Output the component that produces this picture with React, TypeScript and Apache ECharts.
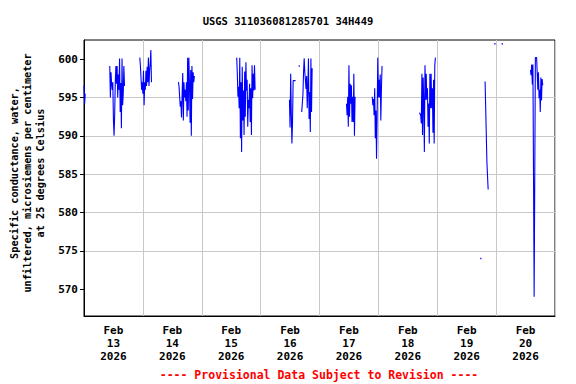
import React, { useEffect, useRef } from 'react';
import * as echarts from 'echarts';

const TITLE = 'USGS 311036081285701 34H449';
const Y_NAME_LINES = [
  'Specific conductance, water,',
  'unfiltered, microsiemens per centimeter',
  'at 25 degrees Celsius',
];
const NOTE = '---- Provisional Data Subject to Revision ----';
const X_DAY_LABELS = [
  'Feb\n13\n2026', 'Feb\n14\n2026', 'Feb\n15\n2026', 'Feb\n16\n2026',
  'Feb\n17\n2026', 'Feb\n18\n2026', 'Feb\n19\n2026', 'Feb\n20\n2026',
];
const Y_TICKS = [570, 575, 580, 585, 590, 595, 600];
const X_START = '2026-02-13T00:00:00Z';
const X_END = '2026-02-21T00:00:00Z';
const Y_MIN = 566.5;
const Y_MAX = 602.5;
const STEP_MINUTES = 15;

// 15-minute record segments (start time + consecutive values)
const segA_start = '2026-02-13T00:00:00Z';
const segA_values = [596.6, 594.2, 595.5];

const segB_start = '2026-02-13T10:30:00Z';
const segB_values = [599.1, 595.0, 598.3, 596.8, 596.0, 597.0, 592.0, 590.0, 592.7, 597.0, 599.1, 596.8, 599.1, 595.0, 598.0, 596.0, 600.1, 593.1, 596.9, 591.0, 600.1, 594.0, 595.5, 599.1, 596.5];

const segC_start = '2026-02-13T22:45:00Z';
const segC_values = [600.2, 599.1, 597.5, 596.0, 597.0, 595.5, 598.5, 594.0, 597.0, 596.0, 598.5, 596.5, 599.0, 597.0, 600.2, 596.5, 598.5, 599.5, 601.2, 597.0];

const segD_start = '2026-02-14T14:30:00Z';
const segD_values = [597.0, 596.4, 595.0, 593.8, 594.5, 592.4, 595.5, 598.2, 592.0, 597.0, 595.0, 596.0, 594.5, 597.0, 592.5, 600.2, 593.3, 600.2, 596.6, 591.7, 598.6, 590.0, 599.1, 594.8, 598.3, 597.0, 597.8];

const segE_start = '2026-02-15T14:15:00Z';
const segE_values = [600.2, 598.1, 595.1, 596.4, 593.6, 600.2, 589.7, 597.0, 587.9, 599.0, 592.0, 595.9, 590.1, 598.4, 592.5, 599.6, 595.9, 597.3, 591.2, 594.7, 593.6, 596.8, 591.8, 596.2, 590.1, 599.2, 594.9, 598.1, 595.9, 599.2, 596.0];

const segF1_start = '2026-02-16T11:45:00Z';
const segF1_values = [594.7, 591.1, 598.1, 593.1, 589.0, 591.6, 597.2, 597.2, 597.2, 597.2, 597.2, 597.2];

const segF2_start = '2026-02-16T16:45:00Z';
const segF2_values = [593.1, 593.1, 595.4, 598.3, 600.1, 598.4, 597.3, 596.1, 597.8, 593.6, 596.4, 600.1, 592.2, 595.7, 590.5, 600.1, 593.1, 598.8];

const segG_start = '2026-02-17T11:00:00Z';
const segG_values = [594.2, 592.7, 595.1, 591.2, 599.2, 592.5, 596.8, 594.2, 596.6, 591.8, 595.1, 591.8, 598.1, 590.0, 595.1];

const segH_start = '2026-02-17T21:30:00Z';
const segH_values = [595.1, 594.0, 594.8, 592.7, 596.2, 589.7, 593.3, 587.0, 592.7, 600.2, 595.0, 597.3, 595.0, 598.0, 592.0, 596.2, 599.1];

const segI_start = '2026-02-18T16:45:00Z';
const segI_values = [593.0, 593.0, 592.7, 591.6, 598.1, 590.1, 597.6, 594.2, 587.9, 599.2, 594.7, 598.1, 594.7, 596.2, 591.2, 594.2, 589.0, 598.1, 593.6, 598.1, 593.6, 596.2, 590.4, 597.3, 589.0, 599.2, 600.2];

const segJ_start = '2026-02-19T19:30:00Z';
const segJ_values = [597.1, 593.6, 593.6, 586.5, 586.5, 583.0];

const segK_start = '2026-02-20T14:00:00Z';
const segK_values = [598.6, 597.9, 599.3, 596.7, 599.3, 584.5, 569.0, 584.6, 600.2, 600.2, 600.2, 600.2, 596.0, 598.3, 594.9, 596.0, 593.1, 597.6, 594.6, 597.4, 596.6];

// single isolated readings
const isolatedTimes = ['2026-02-16T15:45:00Z', '2026-02-19T17:45:00Z', '2026-02-19T23:30:00Z', '2026-02-20T02:30:00Z'];
const isolatedValues = [599.1, 574.0, 602.0, 602.0];

const SEGMENTS: [string, number[]][] = [
  [segA_start, segA_values],
  [segB_start, segB_values],
  [segC_start, segC_values],
  [segD_start, segD_values],
  [segE_start, segE_values],
  [segF1_start, segF1_values],
  [segF2_start, segF2_values],
  [segG_start, segG_values],
  [segH_start, segH_values],
  [segI_start, segI_values],
  [segJ_start, segJ_values],
  [segK_start, segK_values],
];

const HOUR = 3600000;
const DAY = 24 * HOUR;
const FONT = 'DejaVu Sans Mono';

function buildLine(): (number | null)[][] {
  const out: (number | null)[][] = [];
  SEGMENTS.forEach(([start, vals]) => {
    const t0 = Date.parse(start);
    vals.forEach((v, i) => out.push([t0 + i * STEP_MINUTES * 60000, v]));
    const tEnd = t0 + vals.length * STEP_MINUTES * 60000;
    out.push([tEnd, null]);
  });
  return out;
}

export default function App() {
  const ref = useRef<HTMLDivElement>(null);
  useEffect(() => {
    if (!ref.current) return;
    const chart = echarts.init(ref.current, undefined, { renderer: 'svg' });
    const xMin = Date.parse(X_START);
    const xMax = Date.parse(X_END);
    const option: any = {
      animation: false,
      backgroundColor: '#fff',
      title: {
        text: TITLE,
        left: 'center',
        top: 10,
        textStyle: { fontFamily: FONT, fontWeight: 'bold', fontSize: 10.5, color: '#000' },
      },
      grid: {
        left: 84, right: 21, top: 40, bottom: 68,
        show: true, borderColor: '#000', borderWidth: 1, backgroundColor: 'transparent',
      },
      xAxis: {
        type: 'value',
        min: xMin,
        max: xMax,
        interval: 12 * HOUR,
        axisLine: { show: true, lineStyle: { color: '#000', width: 1 } },
        axisTick: { show: false },
        splitLine: { show: true, lineStyle: { color: ['#c8c8c8', 'rgba(0,0,0,0)'], width: 1 } },
        axisLabel: {
          showMinLabel: true,
          showMaxLabel: true,
          margin: 8,
          fontFamily: FONT,
          fontWeight: 'bold',
          fontSize: 11,
          lineHeight: 13,
          color: '#000',
          formatter: (v: number) => {
            const off = v - xMin;
            if (off % DAY !== 12 * HOUR) return '';
            const idx = Math.floor(off / DAY);
            return X_DAY_LABELS[idx] ?? '';
          },
        },
      },
      yAxis: {
        type: 'value',
        min: Y_MIN,
        max: Y_MAX,
        splitNumber: 7,
        axisLine: { show: true, lineStyle: { color: '#000', width: 1 } },
        axisTick: { show: true, length: 4, lineStyle: { color: '#000' }, customValues: Y_TICKS },
        splitLine: { show: true, showMinLine: false, showMaxLine: false, lineStyle: { color: '#c8c8c8', width: 1 } },
        axisLabel: {
          customValues: Y_TICKS,
          margin: 6,
          fontFamily: FONT,
          fontWeight: 'bold',
          fontSize: 11,
          color: '#000',
          formatter: (v: number) => (Math.abs(v % 5) < 1e-6 ? String(v) : ''),
        },
      },
      graphic: [
        {
          type: 'text',
          x: 27,
          y: 173,
          rotation: Math.PI / 2,
          style: {
            text: Y_NAME_LINES.join('\n'),
            align: 'center',
            verticalAlign: 'middle',
            lineHeight: 13,
            font: `bold 10.2px "${FONT}"`,
            fill: '#000',
          },
        },
        {
          type: 'text',
          x: 319,
          y: 375,
          style: {
            text: NOTE,
            align: 'center',
            verticalAlign: 'middle',
            font: `bold 11.5px "${FONT}"`,
            fill: '#ff0000',
          },
        },
      ],
      series: [
        {
          type: 'line',
          data: buildLine(),
          showSymbol: false,
          connectNulls: false,
          lineStyle: { color: '#0000ff', width: 1.1 },
          itemStyle: { color: '#0000ff' },
          emphasis: { disabled: true },
          silent: true,
        },
        {
          type: 'scatter',
          data: isolatedTimes.map((t, i) => [Date.parse(t), isolatedValues[i]]),
          symbol: 'rect',
          symbolSize: 1.5,
          itemStyle: { color: '#0000ff' },
          silent: true,
        },
      ],
    };
    chart.setOption(option);
    return () => chart.dispose();
  }, []);
  return (
    <div
      ref={ref}
      style={{ position: 'absolute', left: 0, top: 0, width: 576, height: 384 }}
    />
  );
}
